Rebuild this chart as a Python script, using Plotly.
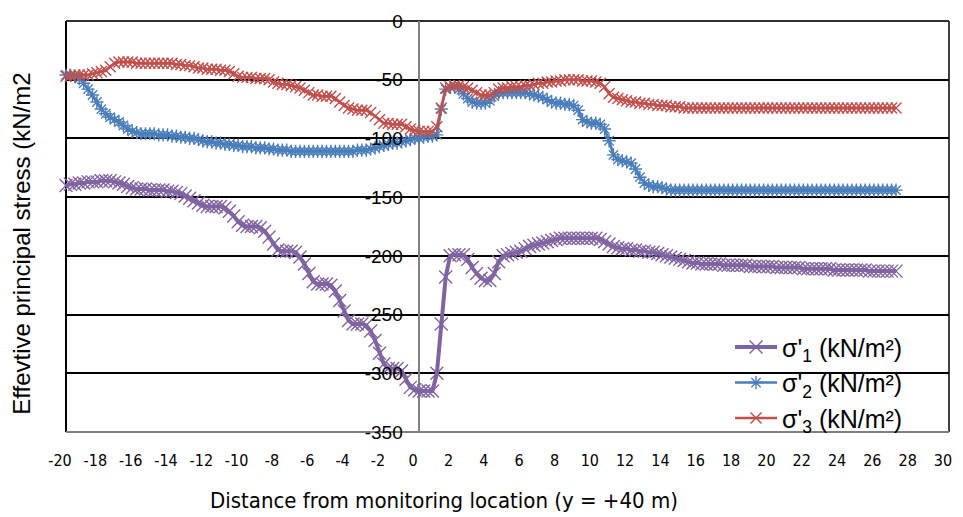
import plotly.graph_objects as go

# x positions (m), sampled every 0.25 m from -20 to 27
distance = [-20 + 0.25 * i for i in range(189)]

sigma1 = [
    -140, -139, -139, -138,  -138, -137, -137, -137,  -136, -136, -136, -137,
    -138, -139, -141, -142,  -143, -143, -143, -144,  -144, -144, -144, -145,
    -145, -146, -147, -149,  -151, -153, -155, -157,  -158, -158, -158, -158,
    -159, -162, -166, -171,  -174, -175, -175, -175,  -176, -179, -184, -190,
    -195, -196, -196, -196,  -197, -201, -207, -215,  -222, -224, -224, -224,
    -225, -230, -238, -247,  -255, -258, -258, -258,  -259, -264, -272, -283,
    -292, -296, -296, -296,  -298, -305, -312, -314,  -315, -315, -315, -315,
    -300, -258, -218, -200,  -199, -199, -199, -203,  -210, -215, -219, -221,
    -221, -215, -205, -200,  -199, -198, -197, -196,  -194, -192, -191, -190,
    -189, -188, -187, -186,  -185, -185, -185, -185,  -185, -185, -185, -185,
    -185, -186, -188, -190,  -192, -193, -194, -194,  -195, -195, -196, -196,
    -197, -197, -198, -199,  -200, -201, -202, -203,  -204, -205, -206, -206,
    -207, -207, -207, -207,  -207, -208, -208, -208,  -208, -208, -208, -209,
    -209, -209, -209, -209,  -209, -210, -210, -210,  -210, -210, -210, -211,
    -211, -211, -211, -211,  -211, -211, -212, -212,  -212, -212, -212, -212,
    -212, -212, -213, -213,  -213, -213, -213, -213,  -213,
]

sigma2 = [
    -46, -46, -47, -49,  -53, -58, -63, -69,  -75, -79, -82, -84,
    -86, -89, -92, -94,  -95, -96, -96, -96,  -96, -97, -97, -97,
    -98, -98, -99, -99,  -100, -100, -101, -102,  -103, -103, -104, -104,
    -105, -105, -106, -106,  -107, -107, -107, -108,  -108, -108, -109, -109,
    -110, -110, -110, -111,  -111, -111, -111, -111,  -111, -111, -111, -111,
    -111, -111, -111, -111,  -111, -111, -110, -110,  -110, -109, -108, -107,
    -106, -105, -104, -104,  -103, -102, -101, -100,  -100, -99, -98, -98,
    -97, -75, -58, -56,  -56, -58, -62, -66,  -69, -70, -70, -70,
    -68, -64, -61, -61,  -61, -61, -61, -61,  -61, -62, -63, -64,
    -65, -67, -69, -70,  -70, -71, -71, -72,  -76, -84, -86, -87,
    -87, -88, -92, -102,  -114, -118, -119, -120,  -121, -126, -133, -138,
    -140, -141, -141, -142,  -143, -144, -144, -144,  -144, -144, -144, -144,
    -144, -144, -144, -144,  -144, -144, -144, -144,  -144, -144, -144, -144,
    -144, -144, -144, -144,  -144, -144, -144, -144,  -144, -144, -144, -144,
    -144, -144, -144, -144,  -144, -144, -144, -144,  -144, -144, -144, -144,
    -144, -144, -144, -144,  -144, -144, -144, -144,  -144,
]

sigma3 = [
    -47, -47, -46, -46,  -46, -46, -45, -44,  -43, -42, -39, -36,
    -35, -35, -35, -35,  -36, -36, -36, -36,  -36, -36, -36, -36,
    -36, -37, -37, -38,  -38, -39, -40, -40,  -41, -41, -41, -42,
    -42, -43, -45, -47,  -48, -48, -48, -49,  -49, -49, -50, -52,
    -53, -54, -54, -55,  -56, -57, -59, -61,  -63, -63, -64, -64,
    -64, -66, -69, -72,  -74, -75, -76, -76,  -76, -78, -81, -84,
    -87, -87, -88, -88,  -88, -90, -92, -93,  -94, -94, -94, -94,
    -90, -74, -57, -56,  -55, -55, -56, -57,  -59, -61, -63, -63,
    -63, -61, -58, -57,  -57, -56, -56, -56,  -55, -55, -54, -53,
    -53, -52, -52, -51,  -51, -50, -50, -50,  -50, -51, -51, -51,
    -52, -53, -56, -62,  -65, -66, -67, -68,  -69, -69, -70, -70,
    -71, -71, -72, -72,  -72, -73, -73, -73,  -74, -74, -74, -74,
    -74, -74, -74, -74,  -74, -74, -74, -74,  -74, -74, -74, -74,
    -74, -74, -74, -74,  -74, -74, -74, -74,  -74, -74, -74, -74,
    -74, -74, -74, -74,  -74, -74, -74, -74,  -74, -74, -74, -74,
    -74, -74, -74, -74,  -74, -74, -74, -74,  -74,
]

names = ["σ'<sub>1</sub> (kN/m²)", "σ'<sub>2</sub> (kN/m²)", "σ'<sub>3</sub> (kN/m²)"]
colors = ["#8064A2", "#4A7EBB", "#C0504D"]
x_ticks = list(range(-20, 31, 2))
y_ticks = list(range(-350, 1, 50))

fig = go.Figure()

fig.add_trace(go.Scatter(
    x=distance, y=sigma1, name=names[0], mode="lines+markers",
    line=dict(color=colors[0], width=4),
    marker=dict(symbol="x-thin", size=13, line=dict(color=colors[0], width=1.4)),
    cliponaxis=False,
))
fig.add_trace(go.Scatter(
    x=distance, y=sigma2, name=names[1], mode="lines+markers",
    line=dict(color=colors[1], width=2.5),
    marker=dict(symbol="asterisk", size=11, line=dict(color=colors[1], width=1.4)),
    cliponaxis=False,
))
fig.add_trace(go.Scatter(
    x=distance, y=sigma3, name=names[2], mode="lines+markers",
    line=dict(color=colors[2], width=2.5),
    marker=dict(symbol="x-thin", size=11, line=dict(color=colors[2], width=1.4)),
    cliponaxis=False,
))

fig.update_layout(
    width=963, height=517,
    margin=dict(l=66, r=11, t=15, b=85),
    paper_bgcolor="white", plot_bgcolor="white",
    font=dict(family="Liberation Sans, Arial, sans-serif", color="black"),
    showlegend=True,
    legend=dict(
        x=0.752, y=0.262, xanchor="left", yanchor="top",
        bgcolor="rgba(0,0,0,0)",
        font=dict(size=25, family="Liberation Sans, Arial, sans-serif", color="black"),
        itemwidth=42,
    ),
    xaxis=dict(
        range=[-20, 30], tickvals=x_ticks, ticktext=[str(v) for v in x_ticks],
        showgrid=False, zeroline=True, zerolinecolor="#808080", zerolinewidth=2,
        showline=False, ticks="",
        tickfont=dict(size=16, family="DejaVu Sans Condensed, Liberation Sans, sans-serif"),
        ticklabelstandoff=17, ticklabelshift=-6,
    ),
    yaxis=dict(
        range=[-350, 0], tickvals=y_ticks, ticktext=[str(v) for v in y_ticks],
        anchor="free", position=0.3995,
        showgrid=True, gridcolor="black", gridwidth=1.5,
        zeroline=False, showline=False, ticks="",
        tickfont=dict(size=19, family="Liberation Sans, Arial, sans-serif"),
        ticklabelstandoff=16,
    ),
    shapes=[
        dict(type="line", xref="paper", yref="paper", x0=0, x1=0, y0=0, y1=1,
             line=dict(color="black", width=2), layer="between"),
        dict(type="line", xref="paper", yref="paper", x0=1, x1=1, y0=0, y1=1,
             line=dict(color="#404040", width=2), layer="between"),
        dict(type="line", xref="paper", yref="paper", x0=0, x1=1, y0=1, y1=1,
             line=dict(color="#303030", width=2), layer="between"),
        dict(type="line", xref="paper", yref="paper", x0=0, x1=1, y0=0, y1=0,
             line=dict(color="#808080", width=2), layer="between"),
    ],
    annotations=[
        dict(text="Distance from monitoring location (y = +40 m)",
             xref="paper", yref="paper", x=0.428, y=0, yshift=-68,
             xanchor="center", yanchor="middle", showarrow=False,
             font=dict(size=22, family="DejaVu Sans Condensed, Liberation Sans, sans-serif")),
        dict(text="Effevtive principal stress (kN/m2",
             xref="paper", yref="paper", x=0, xshift=-44, y=0.458,
             xanchor="center", yanchor="middle", textangle=-90, showarrow=False,
             font=dict(size=24, family="Liberation Sans, Arial, sans-serif")),
    ],
)

fig.write_html("out.html")
